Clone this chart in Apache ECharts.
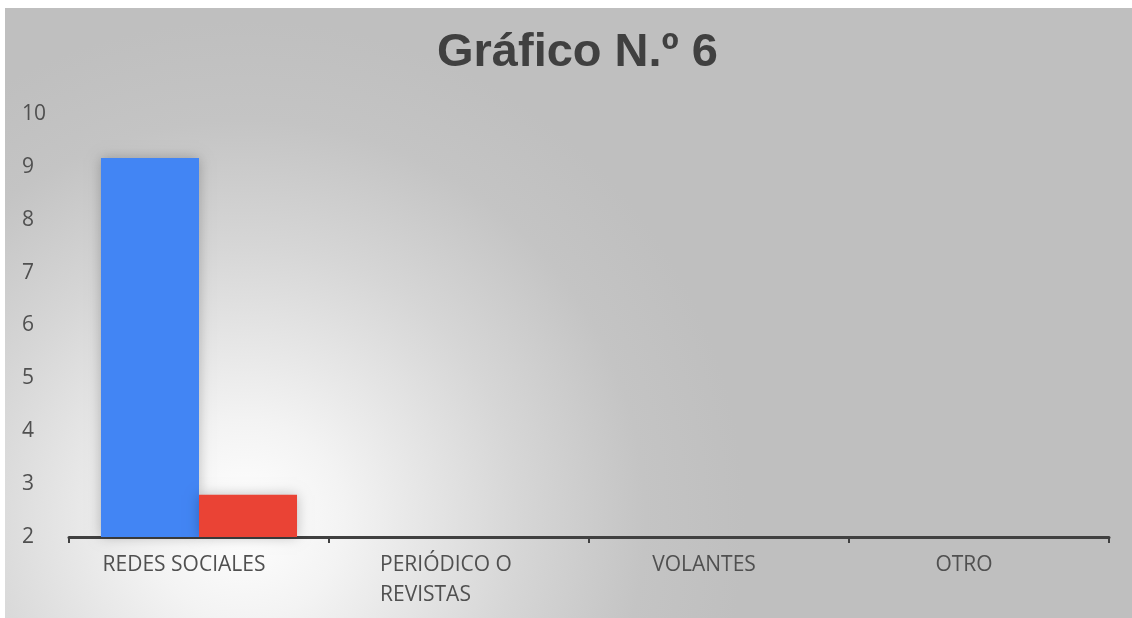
<!DOCTYPE html>
<html>
<head>
<meta charset="utf-8">
<script src="https://cdn.jsdelivr.net/npm/echarts@6/dist/echarts.min.js"></script>
<style>html,body{margin:0;padding:0;background:#fff}#c{width:1132px;height:618px}</style>
</head>
<body>
<div id="c"></div>
<script>
const categories = ['REDES SOCIALES', 'PERIÓDICO O\nREVISTAS', 'VOLANTES', 'OTRO'];
const seriesA = [9.17, 0, 0, 0];
const seriesB = [2.8, 0, 0, 0];
const yTicks = [2, 3, 4, 5, 6, 7, 8, 9, 10];
const titleText = 'Gráfico N.º 6';

const chart = echarts.init(document.getElementById('c'), null, {renderer: 'canvas'});
const labelFont = '"Open Sans", sans-serif';
chart.setOption({
  animation: false,
  backgroundColor: '#ffffff',
  graphic: [{
    type: 'rect', z: -10, silent: true,
    shape: {x: 5, y: 8, width: 1127, height: 610},
    style: {
      fill: new echarts.graphic.RadialGradient(245, 520, 500, [
        {offset: 0, color: '#ffffff'},
        {offset: 0.2, color: '#f3f3f3'},
        {offset: 0.55, color: '#d6d6d6'},
        {offset: 0.8, color: '#c4c4c4'},
        {offset: 1, color: '#bfbfbf'}
      ], true)
    }
  }],
  title: {
    text: titleText,
    left: 432, top: 25,
    textStyle: {fontFamily: '"Liberation Sans", Arial, sans-serif', fontSize: 47, fontWeight: 'bold', color: '#404040'}
  },
  grid: {left: 69, right: 23, top: 114, bottom: 81},
  xAxis: {
    type: 'category',
    data: categories,
    axisLine: {lineStyle: {color: '#404040', width: 3}},
    axisTick: {show: true, length: 6, lineStyle: {color: '#404040', width: 2}},
    axisLabel: {
      margin: 13,
      fontFamily: labelFont, fontSize: 21, fontWeight: 500, color: '#505050', lineHeight: 30,
      padding: [0, 30, 0, 0],
      formatter: function (v) {
        if (v.indexOf('\n') >= 0) {
          return v.split('\n').map(s => '{l|' + s + '}').join('\n');
        }
        return v;
      },
      rich: {l: {width: 128, align: 'left', fontFamily: labelFont, fontSize: 21, fontWeight: 500, color: '#505050', lineHeight: 30}}
    }
  },
  yAxis: {
    type: 'value',
    min: yTicks[0], max: yTicks[yTicks.length - 1], interval: 1,
    axisLine: {show: false},
    axisTick: {show: false},
    splitLine: {show: false},
    axisLabel: {align: 'left', margin: 47, fontFamily: labelFont, fontSize: 21, fontWeight: 500, color: '#505050'}
  },
  series: [
    {type: 'bar', data: seriesA, barGap: '0%', barCategoryGap: '24.6%',
     itemStyle: {color: '#4285f4', shadowBlur: 12, shadowColor: 'rgba(0,0,0,0.25)'}},
    {type: 'bar', data: seriesB,
     itemStyle: {color: '#ea4335', shadowBlur: 12, shadowColor: 'rgba(0,0,0,0.25)'}}
  ]
});
</script>
</body>
</html>
